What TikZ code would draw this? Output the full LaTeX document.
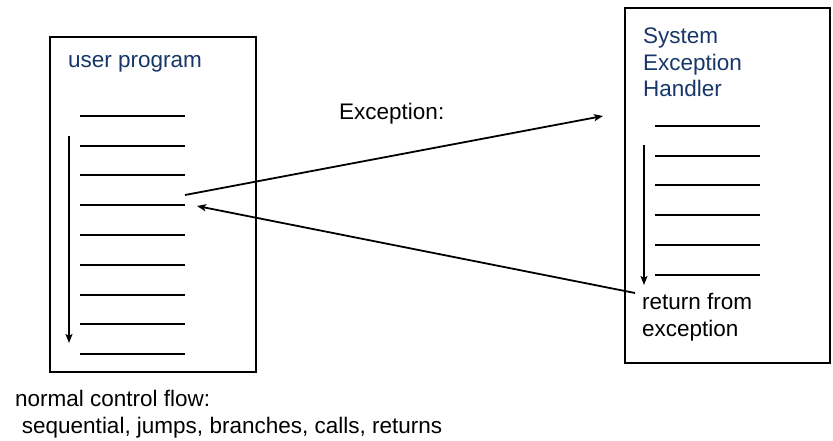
\documentclass[tikz,border=0pt]{standalone}
\usepackage{fontspec}
\setmainfont{Liberation Sans}
\usetikzlibrary{arrows.meta}

\definecolor{titleblue}{RGB}{23,55,105}

\tikzset{
    progbox/.style={draw, line width=2pt, inner sep=0pt},
    codeline/.style={line width=2pt},
    flow/.style={line width=1.8pt, -{Stealth[length=9pt,width=7pt,inset=2pt]}},
    title/.style={text=titleblue, inner sep=0pt},
    plain/.style={inner sep=0pt}
}

\begin{document}
\begin{tikzpicture}[x=1pt, y=-1pt, font=\fontsize{22.5}{26.5}\selectfont]
        \useasboundingbox (0,0) rectangle (833,441);
        % Draw the two program boxes
        \node[progbox, minimum width=206, minimum height=335] (user) at (153,204.5) {};
        \node[progbox, minimum width=205, minimum height=355] (handler) at (727.5,185.5) {};
        % Box titles
        \node[title, anchor=base west] (usertitle) at (68,68) {user program};
        \node[title, anchor=north west, align=left] (handlertitle) at (643,28) {System\\Exception\\Handler};
        % Draw code lines
        \foreach \i in {0,...,8} {
            \draw[codeline] (80,116+29.75*\i) -- +(105,0);
        }
        \foreach \i in {0,...,5} {
            \draw[codeline] (655,125.7+29.9*\i) -- +(105,0);
        }
        % Sequential flow inside each box
        \draw[flow] (69,136) -- (69,343);
        \draw[flow] (644,145) -- (644,285);
        % Ends of the exception path
        \coordinate (raise) at (185,195);
        \coordinate (enter) at (603,116);
        \coordinate (leave) at (635,293);
        \coordinate (resume) at (197,206);
        \node[plain, anchor=base west] (exclabel) at (339,120) {Exception:};
        \node[plain, anchor=north west, align=left] (retlabel) at (642,293.5) {return from\\exception};
        \draw[flow] (raise) -- (enter);
        \draw[flow] (leave) -- (resume);
        % Caption under the user program
        \node[plain, anchor=base west, align=left] (normal) at (15,433) {normal control flow:\\\hspace*{0.3em}sequential, jumps, branches, calls, returns};
    \end{tikzpicture}
\end{document}
